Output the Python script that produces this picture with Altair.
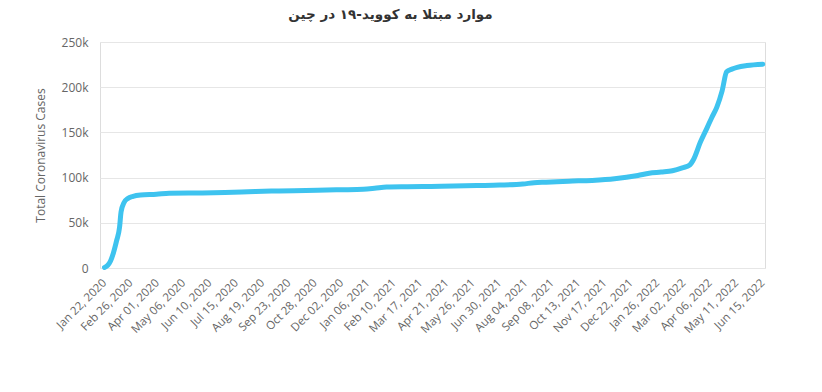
import altair as alt
import pandas as pd

dates = [
    "2020-01-22", "2020-01-26", "2020-01-30", "2020-02-03", "2020-02-07",
    "2020-02-11", "2020-02-13", "2020-02-17", "2020-02-22",
    "2020-02-29", "2020-03-10", "2020-03-31", "2020-04-17", "2020-05-31",
    "2020-06-30", "2020-07-31", "2020-08-31", "2020-09-30", "2020-10-31",
    "2020-11-30", "2020-12-31", "2021-01-15", "2021-01-31", "2021-02-28",
    "2021-03-31", "2021-04-30", "2021-05-31", "2021-06-30", "2021-07-31",
    "2021-08-15", "2021-08-31", "2021-09-30", "2021-10-31", "2021-11-30",
    "2021-12-31", "2022-01-15", "2022-01-31", "2022-02-15", "2022-02-28",
    "2022-03-10", "2022-03-15", "2022-03-24", "2022-04-02", "2022-04-08",
    "2022-04-15", "2022-04-22", "2022-04-28", "2022-05-05", "2022-05-12",
    "2022-05-25", "2022-06-15",
]
cases = [
    571, 2744, 7736, 17205, 30000,
    45000, 62000, 72436, 76936,
    79356, 80754, 81554, 82692, 83017,
    83531, 84337, 85058, 85414, 85997,
    86542, 87071, 88118, 89564, 89912,
    90201, 90697, 91227, 91718, 92875,
    94426, 94980, 96093, 96917, 98631,
    102314, 104864, 106107, 107586, 110771,
    114000, 120000, 139000, 155000, 166000,
    178000, 196000, 217000, 220000, 222000,
    224000, 225500,
]
tick_dates = pd.date_range("2020-01-22", periods=26, freq="35D").strftime("%Y-%m-%d").tolist()
y_ticks = [0, 50000, 100000, 150000, 200000, 250000]

df = pd.DataFrame({"date": pd.to_datetime(dates), "cases": cases})

x_vals = [alt.DateTime(year=int(d[:4]), month=int(d[5:7]), date=int(d[8:10])) for d in tick_dates]

chart = alt.Chart(df).mark_line(
    color="#3ec3ef", strokeWidth=5, interpolate="monotone", strokeCap="round", strokeJoin="round"
).encode(
    x=alt.X(
        "date:T",
        scale=alt.Scale(domain=[
            alt.DateTime(year=2020, month=1, date=16),
            alt.DateTime(year=2022, month=6, date=18),
        ]),
        axis=alt.Axis(
            values=x_vals, format="%b %d, %Y", labelAngle=-45, title=None,
            grid=False, ticks=False, domain=True, domainColor="#e6e6e6",
            labelColor="#666666", labelFontSize=11.5, labelFont="Open Sans",
            labelPadding=13, labelOverlap=False, labelAlign="right", labelBaseline="middle",
        ),
    ),
    y=alt.Y(
        "cases:Q",
        scale=alt.Scale(domain=[0, 250000], nice=False),
        axis=alt.Axis(
            values=y_ticks, title="Total Coronavirus Cases",
            labelExpr="datum.value == 0 ? '0' : (datum.value / 1000) + 'k'",
            grid=True, gridColor="#e6e6e6", ticks=False, domain=False,
            labelColor="#666666", labelFontSize=12, labelFont="Open Sans", labelPadding=12,
            titleColor="#666666", titleFontSize=12, titleFont="Open Sans",
            titleFontWeight="normal", titlePadding=14,
        ),
    ),
).properties(
    width=665,
    height=226,
    autosize=alt.AutoSizeParams(type="none"),
    padding={"left": 100, "top": 42, "right": 57, "bottom": 124},
    title=alt.TitleParams(
        "موارد مبتلا به کووید-۱۹ در چین",
        font="DejaVu Sans", fontSize=13.5, fontWeight="bold", color="#333333",
        anchor="middle", offset=15, dx=-42,
    ),
).configure_view(stroke=None).configure(background="white")

chart.save("out.html", embed_options={"renderer": "svg", "actions": False})
